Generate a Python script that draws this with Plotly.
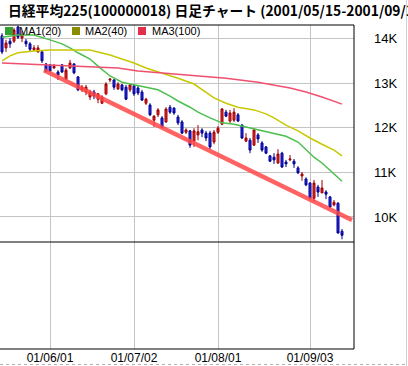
import pandas as pd
import plotly.graph_objects as go

# ---- data -------------------------------------------------------------
title_text = "日経平均225(100000018) 日足チャート (2001/05/15-2001/09/13)"

dates = [d.strftime("%Y-%m-%d") for d in pd.bdate_range("2001-05-16", "2001-09-13")
         if d.strftime("%Y-%m-%d") != "2001-07-20"]

open_ = [14060, 13790, 13940, 13940, 14260, 14010, 13940, 13880, 13750, 13700,
         13700, 13430, 13410, 13340, 13250, 13410, 13090, 13340, 13430, 13140,
         12850, 12800, 12690, 12800, 12640, 12550, 12760, 13070, 13070, 12870,
         12960, 12910, 12850, 12940, 12890, 12800, 12550, 12510, 12170, 12290,
         12220, 12130, 12460, 12440, 12240, 12130, 11900, 11930, 11700, 11840,
         11950, 11880, 11880, 11680, 11900, 12080, 12350, 12150, 12170, 12290,
         12060, 11700, 11720, 11610, 11840, 11660, 11570, 11370, 11340, 11210,
         11430, 11230, 11280, 11250, 11100, 10920, 10850, 10760, 10420, 10670,
         10540, 10560, 10450, 10270, 10310, 9680]
high = [14120, 13970, 14010, 14240, 14290, 14170, 13990, 13920, 13850, 13850,
        13720, 13450, 13430, 13430, 13290, 13430, 13340, 13520, 13450, 13160,
        12960, 12960, 12850, 12850, 12780, 12730, 13020, 13110, 13090, 13020,
        12980, 12960, 12980, 12960, 12940, 12850, 12670, 12550, 12280, 12440,
        12260, 12460, 12510, 12460, 12290, 12170, 11990, 11950, 11990, 12060,
        11990, 11930, 11930, 11950, 12040, 12440, 12400, 12400, 12440, 12330,
        12080, 11880, 11770, 11990, 11880, 11700, 11590, 11390, 11430, 11520,
        11460, 11280, 11390, 11300, 11140, 11010, 10890, 10780, 10830, 10720,
        10830, 10600, 10470, 10380, 10330, 9730]
low = [13650, 13700, 13790, 13900, 13990, 13920, 13810, 13720, 13720, 13680,
       13450, 13250, 13250, 13320, 13070, 13230, 13070, 13320, 13200, 12820,
       12800, 12730, 12620, 12640, 12550, 12530, 12730, 13020, 12850, 12850,
       12820, 12620, 12800, 12710, 12730, 12600, 12510, 12260, 12020, 12240,
       11990, 12110, 12310, 12290, 12060, 11860, 11860, 11550, 11570, 11720,
       11790, 11700, 11520, 11630, 11860, 12060, 12240, 12110, 12130, 12130,
       11750, 11680, 11430, 11590, 11660, 11460, 11410, 11230, 11190, 11190,
       11100, 11120, 11250, 11100, 10960, 10810, 10690, 10400, 10330, 10450,
       10540, 10400, 10200, 10240, 9630, 9500]
close = [13700, 13900, 13880, 14190, 14030, 14080, 13880, 13760, 13790, 13790,
         13500, 13270, 13270, 13380, 13180, 13250, 13290, 13450, 13230, 12850,
         12910, 12910, 12800, 12710, 12760, 12690, 12980, 13090, 12910, 12980,
         12850, 12640, 12960, 12760, 12780, 12620, 12640, 12290, 12260, 12400,
         12020, 12420, 12350, 12330, 12110, 11880, 11950, 11610, 11930, 11910,
         11880, 11770, 11570, 11900, 11990, 12420, 12260, 12330, 12350, 12150,
         11770, 11770, 11500, 11950, 11750, 11500, 11430, 11250, 11280, 11410,
         11120, 11190, 11300, 11190, 10990, 10960, 10720, 10420, 10760, 10560,
         10650, 10510, 10220, 10330, 9640, 9590]

# moving averages (trading-day index, value)
ma1_idx = [0, 4, 8, 10, 12, 15, 17, 19, 22, 24, 27, 30, 33, 36, 39, 42, 44, 47, 49,
           52, 55, 58, 60, 63, 65, 68, 71, 74, 76, 78, 80, 82, 84, 85]
ma1_val = [14030, 14080, 14080, 14030, 13970, 13880, 13790, 13680, 13540, 13380,
           13160, 13020, 12960, 12910, 12850, 12710, 12600, 12460, 12350, 12220,
           12110, 12080, 12040, 11970, 11930, 11880, 11810, 11680, 11500, 11340,
           11210, 11050, 10890, 10800]
ma2_idx = [0, 2, 4, 8, 12, 17, 22, 24, 27, 30, 33, 36, 40, 44, 48, 51, 53, 56, 59,
           63, 66, 68, 71, 74, 77, 80, 83, 85]
ma2_val = [13500, 13610, 13680, 13720, 13740, 13740, 13740, 13700, 13630, 13540,
           13450, 13340, 13230, 13110, 12980, 12800, 12670, 12550, 12460, 12400,
           12310, 12220, 12060, 11930, 11770, 11630, 11500, 11370]
ma3_idx = [0, 6, 11, 17, 22, 29, 34, 40, 48, 56, 64, 68, 72, 76, 80, 85]
ma3_val = [13450, 13430, 13410, 13380, 13360, 13340, 13270, 13230, 13160, 13110,
           13020, 12960, 12890, 12800, 12690, 12530]

trend_idx = [10.5, 87.5]
trend_val = [13290, 9930]

legend_names = ["MA1(20)", "MA2(40)", "MA3(100)"]
tick_dates = ["2001-06-01", "2001-07-02", "2001-08-01", "2001-09-03"]
tick_labels = ["01/06/01", "01/07/02", "01/08/01", "01/09/03"]
y_ticks = [10000, 11000, 12000, 13000, 14000]
y_labels = ["10K", "11K", "12K", "13K", "14K"]

# ---- figure -----------------------------------------------------------
W, H = 408, 366
ML, MR, MT, MB = 0, 54, 25, 17
PW, PH = W - ML - MR, H - MT - MB
split = 107 / PH

xi = list(range(len(dates)))
tick_idx = [dates.index(d) for d in tick_dates]

fig = go.Figure()
fig.add_trace(go.Scatter(x=trend_idx, y=trend_val, mode="lines",
                         line=dict(color="rgba(255,72,72,0.85)", width=4.5),
                         hoverinfo="skip", showlegend=False))
ma_colors = ["#4cbf4c", "#c8c800", "#f0506e"]
for idx, val, col in [(ma1_idx, ma1_val, ma_colors[0]),
                      (ma2_idx, ma2_val, ma_colors[1]),
                      (ma3_idx, ma3_val, ma_colors[2])]:
    fig.add_trace(go.Scatter(x=idx, y=val, mode="lines",
                             line=dict(color=col, width=1.5),
                             hoverinfo="skip", showlegend=False))
fig.add_trace(go.Candlestick(
    x=xi, open=open_, high=high, low=low, close=close,
    increasing=dict(line=dict(color="#a00000", width=1), fillcolor="#e42828"),
    decreasing=dict(line=dict(color="#000090", width=1), fillcolor="#2a2ae6"),
    showlegend=False, hoverinfo="skip"))
# empty lower panel anchor
fig.add_trace(go.Scatter(x=[None], y=[None], xaxis="x2", yaxis="y2",
                         showlegend=False, hoverinfo="skip"))

grid = "#c4c4c4"
fig.update_layout(
    width=W, height=H,
    margin=dict(l=ML, r=MR, t=MT, b=MB, pad=0),
    paper_bgcolor="white", plot_bgcolor="white",
    showlegend=False,
    boxgap=0.5, boxgroupgap=0,
    title=dict(text="<b>" + title_text + "</b>", x=8 / W, xanchor="left",
               xref="container", y=1 - 11 / H, yref="container", yanchor="middle",
               font=dict(family="Noto Sans CJK JP", size=13.8, color="black")),
    xaxis=dict(domain=[0, 1], anchor="y", range=[-0.5, 88], tickvals=tick_idx,
               showticklabels=False, showgrid=True, gridcolor=grid, gridwidth=1,
               ticks="", zeroline=False, showline=False,
               rangeslider=dict(visible=False)),
    xaxis2=dict(domain=[0, 1], anchor="y2", matches="x", range=[-0.5, 88],
                tickvals=tick_idx, ticktext=tick_labels, showgrid=True,
                gridcolor=grid, gridwidth=1, ticks="", zeroline=False,
                showline=False,
                tickfont=dict(family="Liberation Sans", size=12, color="black")),
    yaxis=dict(domain=[split, 1], anchor="x", range=[9439, 14303], side="right",
               tickvals=y_ticks, ticktext=y_labels, showgrid=True, gridcolor=grid,
               gridwidth=1, ticks="", zeroline=False, showline=False,
               ticklabelstandoff=19,
               tickfont=dict(family="Liberation Sans Narrow, Liberation Sans",
                             size=13, color="black")),
    yaxis2=dict(domain=[0, split], anchor="x2", range=[0, 1], showgrid=False,
                showticklabels=False, ticks="", zeroline=False, showline=False),
)

black = dict(color="black", width=1)
shapes = [
    dict(type="line", xref="paper", yref="paper", x0=0, x1=1, y0=1, y1=1, line=black),
    dict(type="line", xref="paper", yref="paper", x0=0, x1=1, y0=split, y1=split, line=black),
    dict(type="line", xref="paper", yref="paper", x0=0, x1=1, y0=0, y1=0, line=black),
    dict(type="line", xref="paper", yref="paper", x0=1, x1=1, y0=0, y1=1, line=black),
    dict(type="line", xref="paper", yref="paper", x0=406.5 / PW, x1=406.5 / PW,
         y0=-MB / PH, y1=1 + MT / PH, line=dict(color="#d0d0d0", width=1)),
    dict(type="line", xref="paper", yref="paper", x0=0, x1=406 / PW,
         y0=-15.5 / PH, y1=-15.5 / PH, line=dict(color="#b0b0b0", width=1, dash="dot")),
]
leg_sq_x = [5, 72, 138]
leg_tx_x = [17, 83, 150]
annotations = []
for name, col, sx, tx in zip(legend_names, ["#30a030", "#8c8c00", "#e0304c"],
                             leg_sq_x, leg_tx_x):
    shapes.append(dict(type="rect", xref="paper", yref="paper",
                       xsizemode="pixel", ysizemode="pixel", xanchor=0, yanchor=1,
                       x0=sx, x1=sx + 8, y0=-10, y1=-2,
                       fillcolor=col, line=dict(width=0)))
    annotations.append(dict(text=name, xref="paper", yref="paper", x=tx / PW, y=1,
                            xanchor="left", yanchor="middle", yshift=-6,
                            showarrow=False,
                            font=dict(family="Liberation Sans", size=11, color="black")))
fig.update_layout(shapes=shapes, annotations=annotations)

fig.write_html("out.html",
               config={"displayModeBar": False},
               post_script="document.body.style.margin='0';"
                           "document.body.style.overflow='hidden';")
